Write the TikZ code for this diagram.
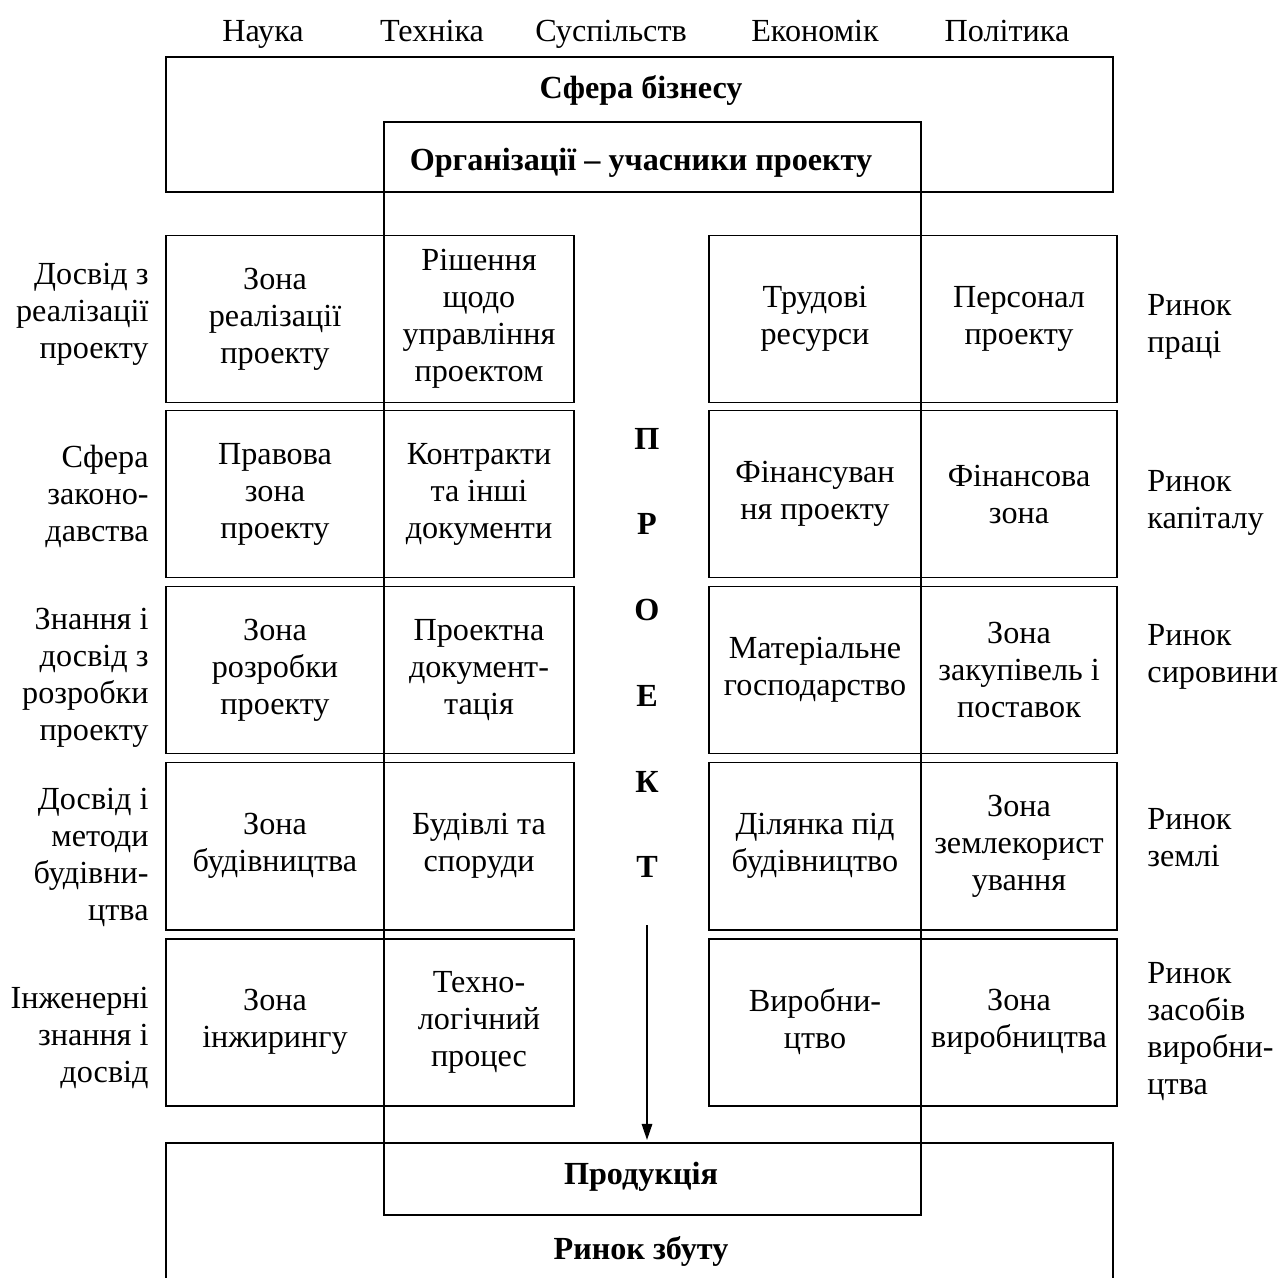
\documentclass[tikz,border=0pt]{standalone}
\usepackage{fontspec}
\setmainfont{Liberation Serif}
\usetikzlibrary{arrows.meta,positioning,calc}

\newcommand{\pxu}{0.435pt}

\begin{document}
\begin{tikzpicture}[x=\pxu, y=-\pxu,
			txt/.style={font=\fontsize{14}{16.1}\selectfont, align=center, inner sep=0pt},
			bold/.style={txt, font=\fontsize{14}{16.1}\selectfont\bfseries},
			head/.style={txt, anchor=base},
			frame/.style={line width=0.85pt},
			cell/.style={txt, draw, line width=0.85pt, minimum height=167*\pxu},
			cellA/.style={cell, minimum width=218*\pxu},
			cellB/.style={cell, minimum width=190*\pxu},
			cellC/.style={cell, minimum width=212*\pxu},
			cellD/.style={cell, minimum width=196*\pxu},
			lside/.style={txt, align=right, anchor=east},
			rside/.style={txt, align=left, anchor=west},
			letter/.style={bold, anchor=base}
			]
			\useasboundingbox (0,0) rectangle (1279,1277);
			
			% --------------------------------------------------------------------
			% environment (top line)
			% --------------------------------------------------------------------
			\node[head] (sci) at (263,41) {Наука};
			\node[head] (tech) at (432,41) {Техніка};
			\node[head] (soc) at (611,41) {Суспільств};
			\node[head] (eco) at (815,41) {Економік};
			\node[head] (pol) at (1007,41) {Політика};
			
			% frames
			\draw[frame] (166,57) rectangle (1113,192);
			\node[bold] (biz) at (641,90) {Сфера бізнесу};
			
			\draw[frame] (384,122) rectangle (921,1215);
			\node[bold] (org) at (641,163) {Організації -- учасники проекту};
			
			\draw[frame] (166,1280) -- (166,1143) -- (1113,1143) -- (1113,1280);
			\node[bold] (prod) at (641,1177) {Продукція};
			\node[bold] (market) at (641,1251) {Ринок збуту};
			
			% --------------------------------------------------------------------
			% LEFT: zones
			% --------------------------------------------------------------------
			\node[cellA] (za1) at (275,319) {Зона\\реалізації\\проекту};
			\node[cellB] (zb1) at (479,319) {Рішення\\щодо\\управління\\проектом};
			
			\node[cellA] (za2) at (275,494) {Правова\\зона\\проекту};
			\node[cellB] (zb2) at (479,494) {Контракти\\та інші\\документи};
			
			\node[cellA] (za3) at (275,670) {Зона\\розробки\\проекту};
			\node[cellB] (zb3) at (479,670) {Проектна\\документ-\\тація};
			
			\node[cellA] (za4) at (275,846) {Зона\\будівництва};
			\node[cellB] (zb4) at (479,846) {Будівлі та\\споруди};
			
			\node[cellA] (za5) at (275,1022) {Зона\\інжирингу};
			\node[cellB] (zb5) at (479,1022) {Техно-\\логічний\\процес};
			
			% LEFT: experience
			\node[lside] (ex1) at (149,314) {Досвід з\\реалізації\\проекту};
			\node[lside] (ex2) at (149,496) {Сфера\\законо-\\давства};
			\node[lside] (ex3) at (149,678) {Знання і\\досвід з\\розробки\\проекту};
			\node[lside] (ex4) at (149,857) {Досвід і\\методи\\будівни-\\цтва};
			\node[lside] (ex5) at (149,1038) {Інженерні\\знання і\\досвід};
			
			% --------------------------------------------------------------------
			% RIGHT: resources
			% --------------------------------------------------------------------
			\node[cellC] (rc1) at (815,319) {Трудові\\ресурси};
			\node[cellD] (rd1) at (1019,319) {Персонал\\проекту};
			
			\node[cellC] (rc2) at (815,494) {Фінансуван\\ня проекту};
			\node[cellD] (rd2) at (1019,494) {Фінансова\\зона};
			
			\node[cellC] (rc3) at (815,670) {Матеріальне\\господарство};
			\node[cellD] (rd3) at (1019,670) {Зона\\закупівель і\\поставок};
			
			\node[cellC] (rc4) at (815,846) {Ділянка під\\будівництво};
			\node[cellD] (rd4) at (1019,846) {Зона\\землекорист\\ування};
			
			\node[cellC] (rc5) at (815,1022) {Виробни-\\цтво};
			\node[cellD] (rd5) at (1019,1022) {Зона\\виробництва};
			
			% RIGHT: markets
			\node[rside] (mk1) at (1147,327) {Ринок\\праці};
			\node[rside] (mk2) at (1147,503) {Ринок\\капіталу};
			\node[rside] (mk3) at (1147,657) {Ринок\\сировини};
			\node[rside] (mk4) at (1147,838) {Ринок\\землі};
			\node[rside] (mk5) at (1147,1032) {Ринок\\засобів\\виробни-\\цтва};
			
			% --------------------------------------------------------------------
			% centre: project
			% --------------------------------------------------------------------
			\node[letter] (p1) at (647,449) {П};
			\node[letter] (p2) at (647,534) {Р};
			\node[letter] (p3) at (647,620) {О};
			\node[letter] (p4) at (647,706) {Е};
			\node[letter] (p5) at (647,792) {К};
			\node[letter] (p6) at (647,877) {Т};
			
			\coordinate (flowtop) at (647,925);
			\coordinate (flowend) at (647,1140);
			\draw[frame, -{Triangle[length=7pt,width=4.5pt]}] (flowtop) -- (flowend);
			
		\end{tikzpicture}
\end{document}
